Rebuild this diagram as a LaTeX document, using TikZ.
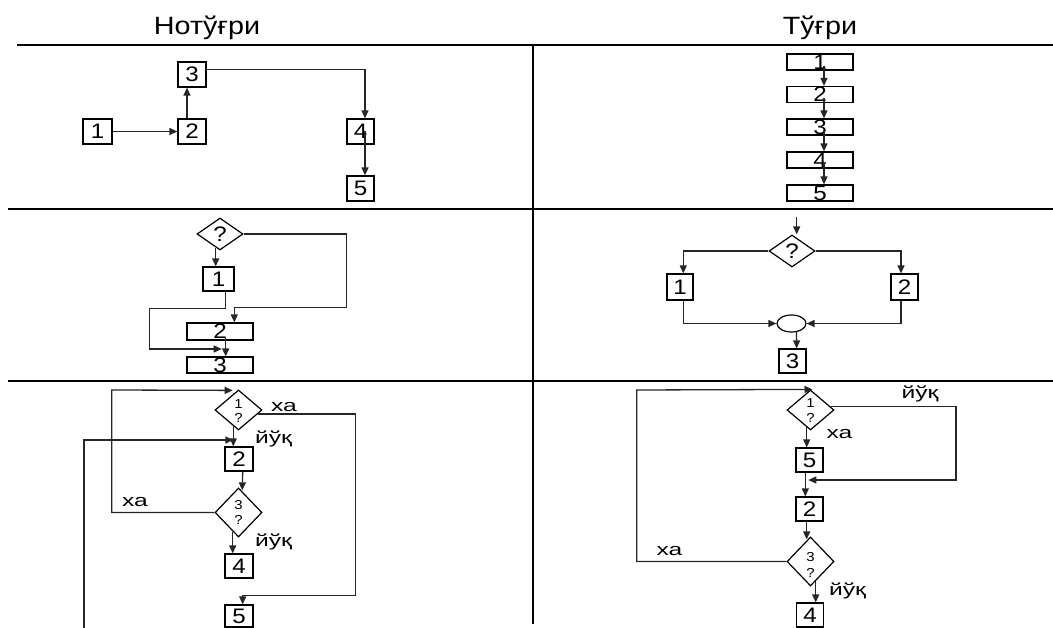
\documentclass[tikz,border=0pt]{standalone}
\usepackage{fontspec}
\usepackage{graphicx}
\setmainfont{Liberation Sans}
\usetikzlibrary{shapes.geometric,arrows.meta,calc}
\newcommand{\digt}[1]{\scalebox{1.15}[1]{#1}}
\newcommand{\lbltx}[1]{\scalebox{1.45}[1]{#1}}
\newcommand{\hdrtx}[1]{\scalebox{1.15}[1]{#1}}
\begin{document}
\begin{tikzpicture}[x=1pt,y=-1pt,
  tbl/.style={line width=2pt},
  conn/.style={line width=1.3pt,draw=black!85,-{Triangle[length=8pt,width=7pt]}},
  bx/.style={draw,line width=1.2pt,rectangle,inner sep=0pt,font=\fontsize{21}{21}\selectfont},
  sbox/.style={bx,minimum width=28pt,minimum height=25pt},
  wbox/.style={bx,minimum width=66pt,minimum height=16pt},
  dia/.style={draw,diamond,line width=1.2pt,inner sep=0pt,minimum width=47pt,minimum height=#1},
  dia/.default=32pt,
  hdr/.style={font=\fontsize{25}{25}\selectfont,anchor=base},
  lbl/.style={font=\fontsize{17}{17}\selectfont,inner sep=0pt},
  sm/.style={font=\fontsize{13}{13}\selectfont,inner sep=0pt},
  big/.style={font=\fontsize{21}{21}\selectfont,inner sep=0pt}]
\useasboundingbox (0,0) rectangle (1053,628);
% table
\coordinate (t0) at (17,45);  \coordinate (t0e) at (1053,45);
\coordinate (t1) at (8,209);  \coordinate (t1e) at (1053,209);
\coordinate (t2) at (8,381);  \coordinate (t2e) at (1053,381);
\coordinate (v0) at (533,45); \coordinate (v1) at (533,624);
\draw[tbl] (t0) -- (t0e);
\draw[tbl] (t1) -- (t1e);
\draw[tbl] (t2) -- (t2e);
\draw[tbl] (v0) -- (v1);
\node[hdr] (hl) at (207,34.3) {\hdrtx{Нотўғри}};
\node[hdr] (hr) at (820,34.3) {\hdrtx{Тўғри}};
% row 1 left
\node[sbox,minimum width=29pt] (a1) at (97.5,131.5) {\digt{1}};
\node[sbox] (a2) at (192,131.5) {\digt{2}};
\node[sbox] (a3) at (192,74.5) {\digt{3}};
\node[sbox,minimum width=27pt] (a4) at (360.5,131.5) {\digt{4}};
\node[sbox,minimum width=27pt] (a5) at (360.5,188.5) {\digt{5}};
\draw[conn] (a1.east) -- (a2.west);
\draw[conn] ([xshift=-5pt]a2.north) -- ([xshift=-5pt]a3.south);
\draw[conn] ([yshift=5pt]a3.east) -| ([xshift=4.5pt]a4.north);
\draw[conn] ([xshift=4.5pt]a4.center) -- ([xshift=4.5pt]a5.north);
% row 1 right
\node[wbox] (b1) at (820,62) {\digt{1}};
\node[wbox] (b2) at (820,94.5) {\digt{2}};
\node[wbox] (b3) at (820,127) {\digt{3}};
\node[wbox] (b4) at (820,160) {\digt{4}};
\node[wbox] (b5) at (820,193) {\digt{5}};
\draw[conn] ([xshift=4pt,yshift=-4pt]b1.center) -- ([xshift=4pt]b2.north);
\draw[conn] ([xshift=4pt,yshift=-4pt]b2.center) -- ([xshift=4pt]b3.north);
\draw[conn] ([xshift=4pt,yshift=-4pt]b3.center) -- ([xshift=4pt]b4.north);
\draw[conn] ([xshift=4pt,yshift=-4pt]b4.center) -- ([xshift=4pt]b5.north);
% row 2 left
\node[dia,minimum width=46pt,label={[big]center:\digt{?}}] (d1) at (220,234) {};
\node[sbox,minimum width=31pt,minimum height=24pt] (c1) at (218.5,279) {\digt{1}};
\node[wbox,minimum height=17pt] (c2) at (220,331.5) {\digt{2}};
\node[wbox] (c3) at (220,365) {\digt{3}};
\coordinate (m1) at (221.7,349);
\draw[conn] ([xshift=-4.3pt,yshift=3pt]d1.south) -- ([xshift=-2.8pt]c1.north);
\draw[conn] (d1.east) -| (346.7,307.7) -| ([xshift=14.3pt]c2.north);
\draw[conn] ([xshift=7.2pt]c1.south) |- (149.3,308.3) |- (m1);
\draw[conn] ([xshift=5.7pt,yshift=4pt]c2.south) -- ([xshift=5.7pt]c3.north);
% row 2 right
\coordinate (e0) at (796.7,216.7);
\node[dia,minimum width=46pt,label={[big]center:\digt{?}}] (d2) at (792,251) {};
\node[sbox,minimum width=26pt,minimum height=26pt] (f1) at (680,287) {\digt{1}};
\node[sbox,minimum width=27pt,minimum height=26pt] (f2) at (904.5,287) {\digt{2}};
\node[draw,ellipse,line width=1.2pt,inner sep=0pt,minimum width=29pt,minimum height=17pt] (el) at (791.5,323.5) {};
\node[sbox,minimum width=27pt,minimum height=24pt] (f3) at (792.5,361) {\digt{3}};
\draw[conn] (e0) -- (e0 |- d2.north);
\draw[conn] (d2.west) -| ([xshift=3.3pt]f1.north);
\draw[conn] (d2.east) -| ([xshift=-3.5pt]f2.north);
\draw[conn] ([xshift=3.3pt]f1.south) |- (el.west);
\draw[conn] ([xshift=-3.5pt]f2.south) |- (el.east);
\draw[conn] ([xshift=5pt,yshift=1.5pt]el.south) -- ([xshift=4.2pt]f3.north);
% row 3 left
\node[dia=40pt,label={[sm,yshift=6pt]center:\digt{1}},label={[sm,yshift=-8pt]center:\digt{?}}] (g1) at (238.5,410) {};
\node[sbox,minimum height=24pt] (g2) at (239,459) {\digt{2}};
\node[dia=49pt,label={[sm,yshift=7pt]center:\digt{3}},label={[sm,yshift=-7pt]center:\digt{?}}] (g3) at (238.5,512.5) {};
\node[sbox,minimum height=24pt] (g4) at (239,566) {\digt{4}};
\node[sbox,minimum height=22pt] (g5) at (239,616) {\digt{5}};
\node[lbl] (l1) at (284,407.5) {\lbltx{ха}};
\node[lbl] (l2) at (273.5,439) {\lbltx{йўқ}};
\node[lbl] (l3) at (135,502.5) {\lbltx{ха}};
\node[lbl] (l4) at (273.5,542) {\lbltx{йўқ}};
\coordinate (s1) at (84,628);
\coordinate (j1) at (233.3,440);
\draw[conn] ([xshift=-5.2pt,yshift=4.4pt]g1.south) -- ([xshift=-5.7pt]g2.north);
\draw[conn] ([xshift=-4.7pt,yshift=-4pt]g1.east) -| (355.7,595.7) -| ([xshift=3.7pt]g5.north);
\draw[conn] (s1) |- (j1);
\draw[conn] ([xshift=3.7pt]g2.south) -- ([xshift=3.7pt,yshift=-3pt]g3.north);
\draw[conn] (g3.west) -| (111.7,390) -- ([xshift=-5.8pt,yshift=-1pt]g1.north);
\draw[conn] ([xshift=-5.8pt,yshift=6pt]g3.south) -- ([xshift=-6.3pt]g4.north);
% row 3 right
\node[dia=40pt,label={[sm,yshift=7pt]center:\digt{1}},label={[sm,yshift=-8pt]center:\digt{?}}] (h1) at (810.5,410) {};
\node[sbox,minimum width=27pt,minimum height=24pt] (h5) at (809.5,460) {\digt{5}};
\node[sbox,minimum width=27pt,minimum height=24pt] (h2) at (809.5,509) {\digt{2}};
\node[dia=49pt,label={[sm,yshift=4.5pt]center:\digt{3}},label={[sm,yshift=-11.5pt]center:\digt{?}}] (h3) at (810.5,561.5) {};
\node[sbox,minimum width=27pt,minimum height=24pt] (h4) at (810,615) {\digt{4}};
\node[lbl] (k1) at (920,394) {\lbltx{йўқ}};
\node[lbl] (k2) at (839.5,434) {\lbltx{ха}};
\node[lbl] (k3) at (669.5,550.7) {\lbltx{ха}};
\node[lbl] (k4) at (847.5,591) {\lbltx{йўқ}};
\coordinate (j2) at (808.3,480);
\draw[conn] ([xshift=-4pt,yshift=3.3pt]h1.east) -| (956,480) -- (j2);
\draw[conn] ([xshift=-3.8pt,yshift=4pt]h1.south) -- ([xshift=-2.8pt]h5.north);
\draw[conn] ([xshift=-4.2pt]h5.south) -- ([xshift=-4.2pt]h2.north);
\draw[conn] ([xshift=-2.8pt]h2.south) -- ([xshift=-3.8pt,yshift=-3pt]h3.north);
\draw[conn] (h3.west) -| (636.7,390) -- ([xshift=2pt]h1.north);
\draw[conn] ([xshift=5.2pt,yshift=6pt]h3.south) -- ([xshift=5.7pt]h4.north);
\end{tikzpicture}
\end{document}
